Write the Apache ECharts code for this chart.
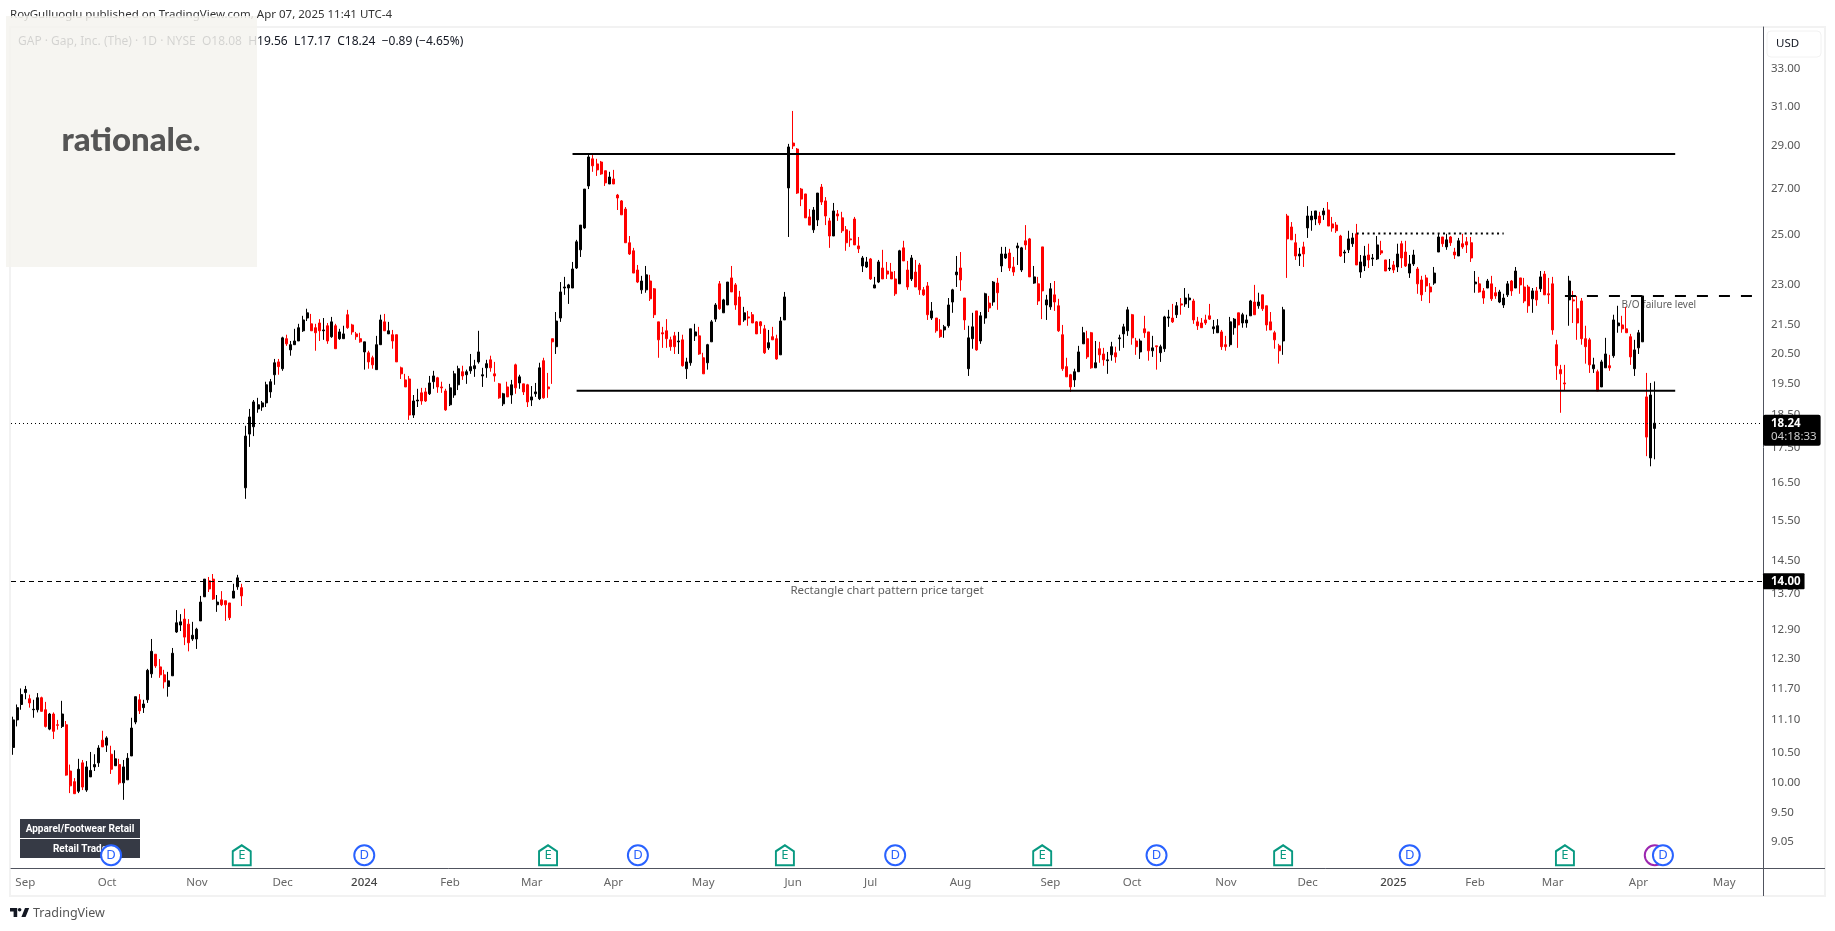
<!DOCTYPE html>
<html>
<head>
<meta charset="utf-8">
<title>GAP</title>
<style>
html,body{margin:0;padding:0;background:#fff;}
#main{width:1835px;height:931px;}
</style>
<script src="https://cdn.jsdelivr.net/npm/echarts@6/dist/echarts.min.js"></script>
</head>
<body>
<div id="main"></div>
<script>
// open, close, low, high
var candles = [
[10.60,11.10,10.47,11.16],[11.10,11.33,10.98,11.39],[11.39,11.58,11.29,11.70],[11.62,11.68,11.49,11.75],[11.50,11.42,11.33,11.58],[11.29,11.30,11.14,11.48],[11.29,11.52,11.24,11.61],[11.52,11.26,11.26,11.54],
[11.29,10.98,10.96,11.44],[10.93,11.21,10.91,11.23],[11.21,10.89,10.75,11.24],[11.01,11.00,10.92,11.10],[10.98,11.21,10.95,11.46],[11.01,10.12,10.11,11.08],[10.19,9.94,9.82,10.30],[10.01,9.81,9.81,10.07],
[9.85,10.22,9.82,10.40],[10.33,9.92,9.87,10.38],[9.87,10.26,9.84,10.36],[10.09,10.20,10.09,10.52],[10.26,10.30,10.19,10.48],[10.33,10.59,10.26,10.64],[10.73,10.61,10.61,10.90],[10.64,10.77,10.52,10.80],
[10.48,10.22,10.14,10.63],[10.28,10.40,10.28,10.55],[10.30,9.99,9.96,10.40],[9.99,10.26,9.71,10.38],[10.04,10.41,10.04,10.50],[10.45,10.95,10.45,11.14],[11.06,11.54,11.02,11.54],[11.48,11.27,11.21,11.59],
[11.33,11.40,11.23,11.48],[11.48,12.06,11.42,12.09],[11.99,12.45,11.91,12.71],[12.39,12.15,12.11,12.39],[12.13,11.97,11.91,12.29],[11.97,11.83,11.70,12.07],[11.74,11.85,11.54,12.03],[11.95,12.41,11.95,12.52],
[12.86,13.06,12.84,13.34],[13.01,13.08,12.88,13.25],[13.14,12.75,12.58,13.37],[13.03,12.63,12.45,13.14],[12.71,12.79,12.67,13.08],[12.71,12.92,12.50,12.95],[13.10,13.52,13.10,13.66],[13.64,14.05,13.64,14.05],
[14.01,13.82,13.75,14.10],[14.05,13.59,13.57,14.17],[13.46,13.52,13.30,13.68],[13.57,13.46,13.43,13.77],[13.55,13.46,13.10,13.55],[13.50,13.17,13.12,13.50],[13.61,13.77,13.61,13.94],[13.87,14.08,13.80,14.15],[13.85,13.66,13.43,13.94],
[16.37,17.85,16.07,18.16],[17.91,18.43,17.53,18.68],[18.13,18.90,17.85,18.96],[18.68,18.81,18.56,19.03],[18.74,18.87,18.62,18.93],[18.87,19.45,18.74,19.55],[19.22,19.55,19.03,19.64],[19.78,20.18,19.45,20.31],
[20.21,20.05,19.78,20.31],[19.98,21.04,19.91,21.08],[21.01,20.83,20.76,21.15],[20.62,20.80,20.42,20.93],[20.80,20.93,20.80,21.36],[20.93,21.40,20.93,21.54],[21.29,21.68,21.25,21.83],[21.75,21.94,21.64,22.09],
[21.54,21.29,21.29,21.90],[21.40,21.22,20.59,21.54],[21.57,21.29,20.93,21.71],[21.29,21.32,20.97,21.75],[21.47,20.93,20.83,21.57],[21.08,21.61,21.04,21.79],[21.47,20.66,20.66,21.54],[21.01,21.25,20.97,21.36],
[21.01,21.18,21.01,21.47],[21.87,21.40,21.36,22.05],[21.50,21.25,21.15,21.54],[21.18,21.08,20.97,21.25],[21.01,20.90,20.87,21.22],[20.55,20.90,19.95,20.90],[20.52,20.21,19.98,20.59],[20.35,20.11,19.98,20.42],
[19.95,20.80,19.95,21.11],[20.80,21.68,20.80,21.87],[21.61,21.29,21.29,21.90],[21.18,21.29,21.18,21.61],[21.15,20.93,20.66,21.32],[21.15,20.21,20.21,21.15],[20.01,19.81,19.64,20.05],[19.61,19.38,19.38,19.81],
[19.64,18.49,18.34,19.74],[18.49,18.93,18.40,19.12],[18.93,18.96,18.74,19.32],[19.19,18.93,18.81,19.35],[19.22,18.93,18.90,19.35],[19.16,19.51,19.12,19.74],[19.55,19.74,19.32,19.91],[19.68,19.38,19.19,19.71],
[19.38,19.35,19.19,19.55],[19.25,18.65,18.62,19.32],[18.81,19.35,18.77,19.48],[19.12,19.81,19.03,19.91],[19.45,19.98,19.28,20.08],[19.88,19.74,19.61,20.08],[19.78,19.88,19.48,19.95],[19.91,20.05,19.81,20.48],
[19.98,20.08,19.71,20.28],[20.21,20.55,20.15,21.29],[19.74,19.78,19.38,20.01],[20.01,20.15,19.68,20.28],[20.28,20.01,19.88,20.42],[19.81,19.74,19.55,20.21],[19.48,19.03,19.00,19.51],[18.84,19.16,18.77,19.19],
[19.38,19.06,19.06,19.55],[19.12,19.45,18.84,19.61],[20.11,19.35,19.16,20.15],[19.51,19.71,19.32,19.78],[19.48,19.22,19.12,19.48],[19.45,18.90,18.74,19.48],[18.96,19.06,18.77,19.41],[19.16,19.22,19.06,19.51],
[19.00,20.01,18.96,20.18],[20.25,19.03,19.00,20.35],[19.38,19.32,19.03,19.84],[21.01,20.90,19.48,21.01],[20.73,21.64,20.48,21.97],[21.75,22.72,21.61,23.10],[22.87,22.91,22.61,23.30],[22.87,22.99,22.27,23.03],
[22.87,23.61,22.87,23.89],[23.65,24.71,23.61,24.79],[24.38,25.41,24.09,25.41],[25.29,26.99,25.25,26.99],[27.13,28.48,26.99,28.57],[28.39,28.06,27.78,28.57],[28.15,27.87,27.59,28.39],[28.24,27.68,27.64,28.29],
[27.83,27.27,27.13,27.83],[27.22,27.54,27.22,27.78],[27.45,27.22,27.22,27.87],[26.72,26.59,26.06,26.77],[26.46,25.85,25.85,26.50],[26.10,24.67,24.67,26.19],[24.67,24.21,24.17,24.95],[24.34,23.45,23.45,24.46],
[23.57,23.10,23.06,23.77],[22.80,23.14,22.65,23.34],[22.80,23.38,22.69,23.73],[23.14,22.46,22.38,23.38],[22.84,21.87,21.75,22.87],[21.61,20.97,20.35,21.61],[21.22,21.18,20.69,21.43],[21.29,21.01,20.69,21.71],
[20.97,20.73,20.59,21.08],[21.11,20.73,20.48,21.25],[20.90,20.93,20.48,21.25],[20.97,20.08,20.05,21.15],[19.98,20.21,19.64,20.35],[20.18,21.36,20.08,21.36],[21.11,21.25,20.93,21.54],[21.11,20.48,20.45,21.43],
[20.35,19.81,19.81,20.52],[20.18,20.80,19.95,20.83],[20.90,21.61,20.90,21.68],[21.71,22.23,21.61,22.30],[23.03,22.09,22.05,23.14],[21.94,22.42,21.94,22.46],[22.23,23.10,22.23,23.10],[23.26,22.72,22.72,23.73],
[22.99,22.23,22.05,23.06],[22.53,21.50,21.50,22.76],[21.68,21.94,21.61,22.16],[21.79,21.75,21.47,22.01],[21.87,21.57,21.57,21.97],[21.61,21.18,21.18,21.64],[21.61,21.47,21.18,21.64],[21.36,20.52,20.48,21.50],
[20.69,20.87,20.62,21.32],[21.08,20.97,20.97,21.43],[21.01,20.31,20.28,21.15],[20.45,21.64,20.45,21.79],[21.68,22.53,21.68,22.72],[27.04,28.96,24.91,29.11],[29.15,29.01,28.86,30.76],[28.86,26.81,26.77,28.91],
[26.99,26.54,26.23,27.04],[26.77,25.72,25.72,26.77],[25.76,25.41,25.41,26.10],[25.21,26.06,25.08,26.19],[25.63,26.81,25.37,26.81],[27.08,26.41,26.28,27.22],[26.46,25.80,25.41,26.63],[25.59,24.95,24.46,25.72],
[24.95,26.02,24.95,26.37],[25.89,25.80,25.59,26.06],[25.72,25.17,25.08,25.98],[25.21,24.67,24.34,25.37],[24.83,24.79,24.50,25.17],[25.67,24.58,24.58,25.76],[24.54,24.42,24.25,24.91],[23.73,24.05,23.49,24.13],
[23.69,23.89,23.65,24.09],[24.01,23.22,23.18,24.05],[22.87,22.99,22.87,23.30],[23.10,23.89,23.06,23.97],[23.65,23.22,23.22,24.38],[23.53,23.41,23.22,23.89],[23.49,23.22,23.22,23.85],[23.22,22.65,22.57,23.53],
[23.03,24.34,23.03,24.38],[24.46,23.93,23.93,24.75],[23.57,22.91,22.80,23.93],[23.22,24.05,23.14,24.17],[23.49,22.91,22.91,23.97],[23.77,22.80,22.61,23.85],[22.80,22.61,22.57,22.91],[22.95,21.87,21.68,23.10],[21.75,22.01,21.68,22.34],
[21.75,21.29,21.22,21.75],[21.32,21.08,21.04,21.71],[21.32,21.43,21.04,21.50],[21.47,22.23,21.40,22.49],[22.34,22.80,21.94,22.84],[23.38,23.49,22.91,24.13],[23.65,23.18,22.76,24.29],[22.49,21.68,21.32,22.49],
[19.98,21.04,19.74,21.47],[21.01,21.43,20.66,21.94],[22.01,20.62,20.59,22.01],[20.93,21.83,20.83,21.97],[21.75,22.65,21.54,22.69],[22.30,22.12,21.97,22.57],[22.34,23.10,22.20,23.14],[23.06,22.69,22.05,23.26],
[23.73,24.21,23.49,24.50],[24.05,24.21,24.01,24.50],[24.25,23.65,23.53,24.42],[23.69,23.49,23.34,24.09],[24.46,24.54,23.77,24.67],[23.57,24.46,23.49,24.50],[24.75,24.58,24.38,25.41],[24.83,23.30,23.30,24.87],
[23.06,23.30,23.03,23.73],[23.03,22.38,22.23,23.30],[24.50,22.76,21.71,24.50],[22.23,22.42,21.68,22.61],[22.16,22.84,22.05,23.06],[22.61,22.34,22.01,23.14],[22.20,21.29,21.25,22.46],[21.15,19.98,19.91,21.50],
[20.05,19.71,19.71,20.35],[19.78,19.38,19.22,19.81],[19.61,19.88,19.38,19.98],[19.88,20.55,19.88,20.76],[20.83,21.22,20.83,21.43],[21.01,20.38,20.31,21.29],[21.22,20.01,19.98,21.25],[20.01,20.18,20.01,20.93],
[20.66,20.45,20.18,20.90],[20.48,20.28,20.08,20.69],[20.25,20.28,19.81,20.55],[20.45,20.73,20.25,20.90],[20.52,20.38,20.18,20.73],[21.01,21.04,20.59,21.15],[21.18,21.43,20.69,21.54],[21.29,22.05,21.11,22.16],
[21.87,21.04,20.80,21.90],[20.93,20.73,20.45,21.04],[20.55,20.93,20.31,21.01],[21.36,21.22,21.04,21.83],[21.25,20.59,20.25,21.25],[20.59,20.69,20.38,21.11],[20.76,20.73,19.95,20.76],[20.52,20.73,20.21,20.80],
[20.66,21.79,20.55,21.83],[21.75,21.79,21.43,22.05],[21.75,21.61,21.57,22.27],[21.87,22.20,21.75,22.34],[22.27,22.23,21.87,22.49],[22.27,22.49,22.16,22.87],[22.42,22.49,22.12,22.65],[22.38,21.68,21.54,22.46],
[21.61,21.47,21.32,21.79],[21.57,21.40,21.40,21.75],[21.68,21.57,21.50,21.87],[21.83,21.71,21.68,22.27],[21.36,21.43,21.18,21.68],[21.22,21.47,21.22,21.71],[21.25,20.73,20.62,21.32],[20.80,20.73,20.59,21.11],
[20.80,21.61,20.73,21.79],[21.40,21.71,21.15,21.75],[21.94,21.50,20.69,21.94],[21.57,21.87,21.40,21.94],[21.57,21.68,21.40,21.87],[21.83,22.38,21.83,22.42],[22.34,21.87,21.87,22.99],[22.20,22.34,22.09,22.69],
[22.61,22.09,22.01,22.61],[22.20,21.50,21.29,22.20],[21.61,21.32,21.32,21.97],[21.22,20.97,20.66,21.29],[20.76,20.59,20.15,20.83],[20.93,22.05,20.45,22.16],[25.80,24.83,23.26,25.89],[25.33,24.79,24.79,25.54],
[24.67,24.13,23.97,25.04],[24.13,24.21,23.73,24.46],[24.50,24.21,23.69,24.71],[25.29,25.80,24.87,26.23],[25.63,25.80,25.17,26.02],[25.67,26.02,25.41,26.02],[25.80,25.50,25.41,25.98],[25.85,26.02,25.63,26.15],[26.06,25.37,25.37,26.41],
[25.46,25.29,25.13,25.76],[25.41,25.17,25.08,25.54],[24.95,24.13,24.09,25.00],[24.25,24.29,23.85,24.38],[24.38,24.83,24.25,25.17],[24.63,24.87,24.50,25.08],[25.04,23.77,23.77,25.46],[23.49,23.89,23.26,24.17],
[23.73,24.13,23.53,24.54],[24.17,23.97,23.65,24.63],[24.01,24.05,23.73,24.21],[24.01,24.58,23.97,24.95],[24.34,24.25,24.17,24.75],[23.97,23.53,23.53,23.97],[23.61,23.65,23.53,24.01],[23.77,23.57,23.45,23.93],
[23.69,24.21,23.49,24.63],[24.63,24.05,23.65,24.75],[24.29,23.73,23.69,24.75],[23.45,23.81,23.26,24.17],[23.81,24.17,23.73,24.38],[23.61,23.03,22.65,23.69],[23.18,22.61,22.38,23.34],[23.26,22.95,22.72,23.38],
[22.91,22.72,22.30,23.06],[23.06,23.45,22.99,23.69],[24.29,24.91,24.29,25.04],[24.91,24.63,24.50,24.91],[24.50,24.79,24.38,25.04],[24.91,24.67,24.54,24.95],[24.29,24.17,24.01,24.46],[24.13,24.75,24.13,24.87],
[24.63,24.50,24.42,25.04],[24.71,24.58,24.25,24.91],[24.67,24.05,23.89,24.91],[23.03,23.10,22.69,23.53],[23.03,22.72,22.69,23.30],[22.76,22.49,22.27,22.87],[22.87,23.14,22.87,23.22],[23.03,22.46,22.38,23.34],
[22.69,22.57,22.46,22.91],[22.34,22.72,22.30,22.80],[22.23,22.49,22.12,22.65],[22.61,23.03,22.53,23.14],[23.14,22.76,22.57,23.18],[22.87,23.53,22.87,23.69],[23.26,22.99,22.65,23.26],[22.91,22.38,22.30,23.26],
[22.91,22.20,21.94,22.99],[22.46,22.76,21.94,22.87],[22.76,22.42,22.20,22.91],[22.84,23.30,22.72,23.53],[23.41,22.61,22.61,23.53],[22.65,22.61,22.27,23.26],[23.03,21.32,21.15,23.30],[20.80,20.08,19.61,20.97],
[19.95,19.81,18.56,20.11],[19.51,19.48,19.25,20.11],[22.42,23.14,21.47,23.34],[22.42,22.38,21.57,22.76],[22.09,21.57,20.97,22.57],[22.38,21.01,20.80,22.49],[21.01,20.73,20.15,21.47],[20.97,20.11,19.84,21.04],
[19.98,20.11,19.84,20.35],[19.88,19.25,19.25,19.95],[19.38,20.21,19.38,20.28],[20.01,20.48,20.01,21.04],[20.08,20.01,19.91,20.45],[20.42,21.68,20.35,21.87],[21.47,21.57,21.22,22.20],[21.50,21.36,21.22,21.83],
[21.36,21.22,21.22,22.16],[21.08,20.38,20.11,21.18],[19.98,20.62,19.74,20.97],[20.69,21.22,20.48,21.32],[20.90,22.57,20.90,22.57],[19.06,17.82,17.26,19.84],[17.21,19.12,16.97,19.51],[18.08,18.24,17.17,19.56]
];
var barCount = 429;
var lastPrice = 18.24;
var targetPrice = 14.00;

var priceTicks = [33,31,29,27,25,23,21.5,20.5,19.5,18.5,17.5,16.5,15.5,14.5,13.7,12.9,12.3,11.7,11.1,10.5,10,9.5,9.05];
var tickBars = [3,23,45,66,86,107,127,147,169,191,210,232,254,274,297,317,338,358,377,398,419];
var tickNames = ['Sep','Oct','Nov','Dec','2024','Feb','Mar','Apr','May','Jun','Jul','Aug','Sep','Oct','Nov','Dec','2025','Feb','Mar','Apr','May'];

var dividendBars = [24,86,153,216,280,342,404];
var earningBars = [56,131,189,252,311,380];
var splitBars = [402];
var eventPrice = 8.85;

var rangeTop = [[137,28.62],[407,28.62]];
var rangeBottom = [[138,19.26],[407,19.26]];
var breakoutLevel = [[329,25.05],[365,25.05]];
var failureLevel = [[380,22.57],[426,22.57]];
var notes = [[214,13.77,'Rectangle chart pattern price target'],[403,22.24,'B/O failure level']];
var noteSizes = [11.5,10];

var categories = [];
for (var i = 0; i < barCount; i++) {
	categories.push(String(i));
}
var noteData = [];
for (var n = 0; n < notes.length; n++) {
	noteData.push({ value : notes[n], label : { fontSize : noteSizes[n] } });
}

function eventData(bars) {
	var res = [];
	for (var j = 0; j < bars.length; j++) {
		res.push([bars[j], eventPrice]);
	}
	return res;
}
function levelSeries(data, width, dash) {
	return {
		type : 'line',
		data : data,
		symbol : 'none',
		silent : true,
		z : 4,
		clip : false,
		lineStyle : { color : '#000', width : width, type : dash }
	};
}
function eventSeries(bars, symbol, size, color, text) {
	return {
		type : 'scatter',
		data : eventData(bars),
		symbol : symbol,
		symbolSize : size,
		silent : true,
		clip : false,
		z : 6,
		itemStyle : { color : '#fff', borderColor : color, borderWidth : 2, opacity : 1 },
		label : { show : true, position : 'inside', formatter : text, color : color, fontSize : 13, fontFamily : 'Noto Sans' }
	};
}

var font = 'Noto Sans';
var housePath = 'path://M0 6L9 0L18 6L18 20L0 20Z';

var myChart = echarts.init(document.getElementById('main'));
var option = {
	animation : false,
	backgroundColor : '#fff',
	grid : { left : 11, top : 27, width : 1752, height : 841, containLabel : false },
	xAxis : {
		type : 'category',
		data : categories,
		boundaryGap : true,
		axisLine : { show : true, lineStyle : { color : '#50535e', width : 1 } },
		axisTick : { show : false },
		splitLine : { show : false },
		axisLabel : {
			interval : function(index) { return tickBars.indexOf(index) >= 0; },
			formatter : function(value, index) {
				var name = tickNames[tickBars.indexOf(index)];
				return name.length == 4 ? '{y|' + name + '}' : name;
			},
			color : '#666',
			fontFamily : font,
			fontSize : 11.5,
			margin : 9,
			rich : { y : { color : '#444', fontFamily : font, fontSize : 11.5, fontWeight : 500 } }
		}
	},
	yAxis : {
		type : 'log',
		logBase : 10,
		position : 'right',
		min : 8.663,
		max : 35.40,
		axisLine : { show : true, onZero : false, lineStyle : { color : '#50535e', width : 1 } },
		axisTick : { show : false },
		splitLine : { show : false },
		minorTick : { show : false },
		axisLabel : {
			customValues : priceTicks,
			formatter : function(value) { return Number(value).toFixed(2); },
			color : '#555',
			fontFamily : font,
			fontSize : 11.5,
			padding : [2, 0, 0, 0],
			margin : 8
		}
	},
	series : [ {
		type : 'scatter',
		data : noteData,
		symbolSize : 0,
		silent : true,
		z : 1,
		label : {
			show : true,
			position : 'inside',
			formatter : function(p) { return p.data.value[2]; },
			color : '#333',
			fontFamily : font,
			fontSize : 12
		}
	}, {
		type : 'candlestick',
		data : candles,
		barWidth : 2.5,
		z : 3,
		silent : true,
		itemStyle : {
			color : '#000',
			color0 : '#ff0000',
			borderColor : '#000',
			borderColor0 : '#ff0000',
			borderWidth : 1
		},
		markLine : {
			silent : true,
			symbol : 'none',
			animation : false,
			precision : 2,
			data : [ {
				yAxis : lastPrice,
				lineStyle : { color : '#000', width : 1, type : [1, 3] },
				label : {
					show : true,
					position : 'end',
					distance : 0,
					offset : [0, 7],
					formatter : '{a|18.24}\n{b|04:18:33}',
					backgroundColor : '#000',
					padding : [3, 4, 2, 8],
					borderRadius : 2,
					rich : {
						a : { color : '#fff', fontFamily : font, fontSize : 11.5, fontWeight : 'bold', lineHeight : 13 },
						b : { color : '#ccc', fontFamily : font, fontSize : 11.5, lineHeight : 13 }
					}
				}
			}, {
				yAxis : targetPrice,
				lineStyle : { color : '#000', width : 1, type : [5, 4] },
				label : {
					show : true,
					position : 'end',
					distance : 0,
					formatter : '14.00',
					color : '#fff',
					fontFamily : font,
					fontSize : 11.5,
					fontWeight : 'bold',
					backgroundColor : '#000',
					padding : [2, 4, 2, 8],
					borderRadius : 1
				}
			} ]
		}
	},
	levelSeries(rangeTop, 2, 'solid'),
	levelSeries(rangeBottom, 2, 'solid'),
	levelSeries(breakoutLevel, 2, [2, 3.4]),
	levelSeries(failureLevel, 2, [11, 11]),
	eventSeries(splitBars, 'circle', 20, '#9c27b0', ''),
	eventSeries(dividendBars, 'circle', 20, '#2962ff', 'D'),
	eventSeries(earningBars, housePath, [18, 20], '#089981', 'E')
	],
	graphic : [
		// outer frame
		{ type : 'rect', z : 0, silent : true, shape : { x : 10, y : 27, width : 1815, height : 869 }, style : { fill : 'none', stroke : '#f2f2f2', lineWidth : 2 } },
		{ type : 'line', z : 1, silent : true, shape : { x1 : 1763.5, y1 : 868, x2 : 1763.5, y2 : 896 }, style : { stroke : '#50535e', lineWidth : 1 } },
		{ type : 'line', z : 1, silent : true, shape : { x1 : 1763, y1 : 868.5, x2 : 1825, y2 : 868.5 }, style : { stroke : '#50535e', lineWidth : 1 } },
		{ type : 'text', z : 1, silent : true, x : 10, y : 15, style : { text : 'RoyGulluoglu published on TradingView.com, Apr 07, 2025 11:41 UTC-4', font : '11.5px "Noto Sans"', fill : '#333', textVerticalAlign : 'middle' } },
		{ type : 'text', z : 1, silent : true, x : 18, y : 42, style : { text : 'GAP \u00b7 Gap, Inc. (The) \u00b7 1D \u00b7 NYSE  O18.08  H19.56  L17.17  C18.24  \u22120.89 (\u22124.65%)', font : '12px "Noto Sans"', fill : '#131722', textVerticalAlign : 'middle' } },
		{ type : 'rect', z : 1, silent : true, shape : { x : 1767, y : 31, width : 54, height : 26, r : 4 }, style : { fill : '#fff', stroke : '#f2f2f2', lineWidth : 1 } },
		{ type : 'text', z : 2, silent : true, x : 1776, y : 44, style : { text : 'USD', font : '11.5px "Noto Sans"', fill : '#131722', textVerticalAlign : 'middle' } },
		// sector tags
		{ type : 'rect', z : 1, silent : true, shape : { x : 20, y : 819, width : 120, height : 19 }, style : { fill : '#363a45' } },
		{ type : 'rect', z : 1, silent : true, shape : { x : 20, y : 839, width : 120, height : 19 }, style : { fill : '#363a45' } },
		{ type : 'text', z : 2, silent : true, x : 80, y : 829, style : { text : 'Apparel/Footwear Retail', font : 'bold 10px Roboto', fill : '#fff', textAlign : 'center', textVerticalAlign : 'middle' } },
		{ type : 'text', z : 2, silent : true, x : 80, y : 849, style : { text : 'Retail Trade', font : 'bold 10px Roboto', fill : '#fff', textAlign : 'center', textVerticalAlign : 'middle' } },
		// footer logo
		{
			type : 'group', x : 8.8, y : 904.4, scaleX : 0.6, scaleY : 0.6, silent : true,
			children : [
				{ type : 'polygon', z : 2, shape : { points : [[2,6],[14,6],[14,21],[8,21],[8,12],[2,12]] }, style : { fill : '#131722' } },
				{ type : 'polygon', z : 2, shape : { points : [[28,21],[21,21],[27,6],[34,6]] }, style : { fill : '#131722' } },
				{ type : 'circle', z : 2, shape : { cx : 18, cy : 9, r : 3 }, style : { fill : '#131722' } }
			]
		},
		{ type : 'text', z : 2, silent : true, x : 33, y : 913, style : { text : 'TradingView', font : '12.5px "Noto Sans"', fill : '#555', textVerticalAlign : 'middle' } },
		// watermark
		{ type : 'rect', z : 100, silent : true, shape : { x : 6, y : 16, width : 251, height : 251 }, style : { fill : 'rgba(244,243,239,0.85)' } },
		{ type : 'text', z : 101, silent : true, x : 131, y : 140, style : { text : 'rationale.', font : '900 33px Lato', fill : '#555', textAlign : 'center', textVerticalAlign : 'middle' } }
	]
};
myChart.setOption(option);
</script>
</body>
</html>
